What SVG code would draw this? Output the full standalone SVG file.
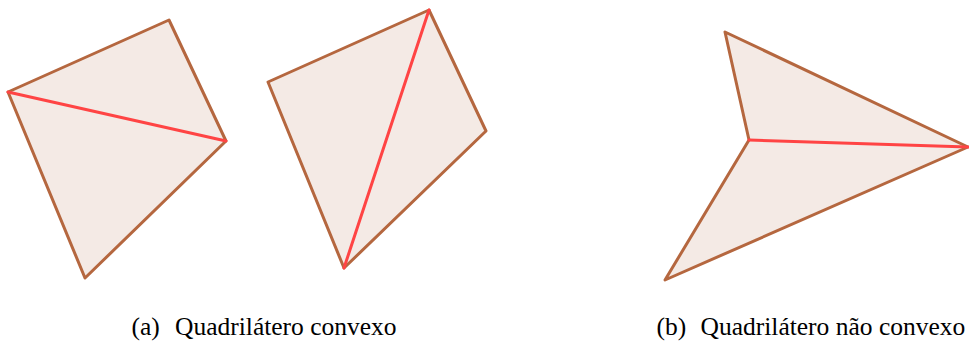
<svg xmlns="http://www.w3.org/2000/svg" width="969" height="343" viewBox="0 0 969 343">
<style>
.poly{fill:#f4eae5;stroke:#b5673f;stroke-width:3;stroke-linejoin:round}
.diag{stroke:#ff4444;stroke-width:3;stroke-linecap:round}
.cap{font-family:"Liberation Serif","Times New Roman",serif;font-size:25.5px;fill:#000}
</style>
<rect width="969" height="343" fill="#fff"/>
<g id="quad-a1">
<polygon class="poly" points="8,92 169,20 226,141 85,278"/>
<line class="diag" x1="8" y1="92" x2="226" y2="141"/>
</g>
<g id="quad-a2">
<polygon class="poly" points="268,82 429,10 486,131 344,268"/>
<line class="diag" x1="429" y1="10" x2="344" y2="268"/>
</g>
<g id="quad-b">
<polygon class="poly" points="725,32 968,147 665,280 749,140"/>
<line class="diag" x1="749" y1="140" x2="968" y2="147"/>
</g>
<g id="captions">
<text class="cap" x="131.5" y="335">(a)</text>
<text class="cap" x="175" y="335">Quadrilátero convexo</text>
<text class="cap" x="656.5" y="335">(b)</text>
<text class="cap" x="700.5" y="335">Quadrilátero não convexo</text>
</g>
</svg>
